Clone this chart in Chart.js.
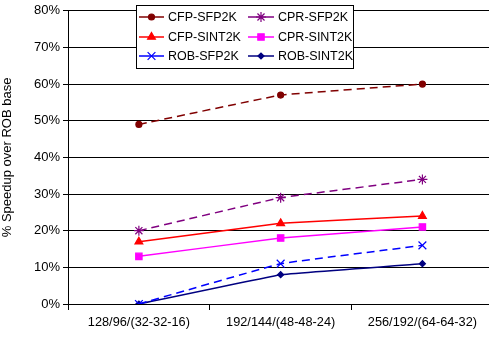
<!DOCTYPE html>
<html><head><meta charset="utf-8">
<script src="https://cdn.jsdelivr.net/npm/chart.js@4"></script>
<style>html,body{margin:0;padding:0;background:#fff;overflow:hidden;}canvas{display:block;}</style>
</head><body><canvas id="c" width="500" height="337"></canvas>
<script>
const categories = ['128/96/(32-32-16)', '192/144/(48-48-24)', '256/192/(64-64-32)'];
const cfpSfp2k = [49, 57, 60];
const cprSfp2k = [20, 29, 34];
const cfpSint2k = [17, 22, 24];
const cprSint2k = [13, 18, 21];
const robSfp2k = [0, 11, 16];
const robSint2k = [0, 8, 11];
const yTicks = [0, 10, 20, 30, 40, 50, 60, 70, 80];
const FONT = 'Liberation Sans, Arial, Helvetica, sans-serif';

function ds(label, data, color, style, radius, dashed) {
  return {label, data, borderColor: color, backgroundColor: color, pointStyle: style,
    pointRadius: radius, pointHoverRadius: radius, borderWidth: 1.5, pointBorderWidth: 1.2,
    borderDash: dashed ? [8, 5] : [], tension: 0.05, fill: false};
}
const datasets = [
  ds('CFP-SFP2K', cfpSfp2k, '#800000', 'circle', 3, true),
  ds('CPR-SFP2K', cprSfp2k, '#800080', 'star', 5, true),
  ds('CFP-SINT2K', cfpSint2k, '#ff0000', 'triangle', 4.5, false),
  ds('CPR-SINT2K', cprSint2k, '#ff00ff', 'rect', 4.5, false),
  ds('ROB-SFP2K', robSfp2k, '#0000ff', 'crossRot', 5.5, true),
  ds('ROB-SINT2K', robSint2k, '#000080', 'rectRot', 3, false)
];

const legendPlugin = {
  id: 'boxLegend',
  afterDatasetsDraw(chart) {
    const ctx = chart.ctx;
    const bx = 136.5, by = 5.5, bw = 217, bh = 63;
    ctx.save();
    ctx.fillStyle = '#fff';
    ctx.fillRect(bx, by, bw, bh);
    ctx.strokeStyle = '#000'; ctx.lineWidth = 1; ctx.setLineDash([]);
    ctx.strokeRect(bx, by, bw, bh);
    ctx.font = '12.5px ' + FONT;
    ctx.textBaseline = 'middle';
    const rows = [17, 37, 56];
    const cols = [{x0: 139, x1: 164, tx: 168}, {x0: 248, x1: 274, tx: 278}];
    chart.data.datasets.forEach((d, i) => {
      const r = rows[Math.floor(i / 2)], c = cols[i % 2];
      ctx.strokeStyle = d.borderColor; ctx.lineWidth = 1.5; ctx.setLineDash([]);
      ctx.beginPath(); ctx.moveTo(c.x0, r); ctx.lineTo(c.x1, r); ctx.stroke();
      ctx.lineWidth = 1.2;
      ctx.fillStyle = d.backgroundColor;
      Chart.helpers.drawPoint(ctx, {pointStyle: d.pointStyle, radius: d.pointRadius, borderWidth: 1.2, rotation: 0}, (c.x0 + c.x1) / 2, r);
      ctx.fillStyle = '#000';
      ctx.fillText(d.label, c.tx, r + 0.5);
    });
    ctx.restore();
  }
};

new Chart(document.getElementById('c'), {
  type: 'line',
  data: {labels: categories, datasets},
  options: {
    responsive: false, animation: false,
    layout: {padding: {top: 9, right: 1, left: 0, bottom: 0}},
    plugins: {legend: {display: false}, tooltip: {enabled: false}},
    scales: {
      x: {
        offset: true,
        grid: {display: true, drawOnChartArea: false, drawTicks: true, tickLength: 6, color: '#000', offset: true},
        border: {display: true, color: '#000', width: 1},
        ticks: {color: '#000', font: {family: FONT, size: 12.75}, padding: 5, maxRotation: 0},
        afterFit(s) { s.height = 33; }
      },
      y: {
        min: 0, max: 80,
        afterBuildTicks(s) { s.ticks = yTicks.map(v => ({value: v})); },
        grid: {color: '#000', lineWidth: 1, drawTicks: true, tickLength: 5, tickColor: '#000'},
        border: {display: true, color: '#000', width: 1},
        ticks: {color: '#000', font: {family: FONT, size: 13}, padding: 3, callback: v => v + '%'},
        title: {display: true, text: '% Speedup over ROB base', color: '#000', font: {family: FONT, size: 13}, padding: {top: 0, bottom: 4}},
        afterFit(s) { s.width = 68; }
      }
    }
  },
  plugins: [legendPlugin]
});
</script></body></html>
